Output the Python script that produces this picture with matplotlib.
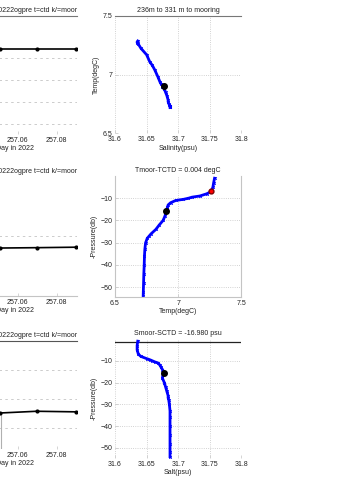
import matplotlib
matplotlib.use("Agg")
import matplotlib.pyplot as plt

plt.rcParams['font.family'] = ['Liberation Sans', 'DejaVu Sans']

# cast profile, read on a common pressure grid (dbar)
pres = [1, 3, 5, 7, 8, 9, 9.5, 10, 10.5, 11, 12, 13, 14, 15, 16, 18, 20, 22,
        24, 26, 27, 28, 30, 33, 36, 40, 44, 48, 52, 54]
temp = [7.287, 7.280, 7.274, 7.260, 7.225, 7.170, 7.110, 7.080, 7.040, 6.980,
        6.940, 6.920, 6.915, 6.910, 6.905, 6.895, 6.880, 6.850, 6.823, 6.785,
        6.770, 6.755, 6.742, 6.736, 6.733, 6.731, 6.728, 6.726, 6.724, 6.723]
salt = [31.636, 31.635, 31.635, 31.637, 31.641, 31.650, 31.655, 31.659, 31.663,
        31.668, 31.671, 31.673, 31.675, 31.677, 31.676, 31.675, 31.678, 31.680,
        31.682, 31.684, 31.684, 31.685, 31.686, 31.687, 31.687, 31.687, 31.687,
        31.687, 31.687, 31.687]

# mooring instrument value and the matching ctd point
p_moor = 15.6
t_moor = 6.906
s_moor = 31.678
p_ctd_top = 6.7
t_ctd_top = 7.26

# mooring time series around the cast
days = [257.0318, 257.0508, 257.0697, 257.0900]
moor_pres = [15.70, 15.70, 15.70, 15.70]
moor_temp = [6.902, 6.903, 6.906, 6.910]
moor_salt = [31.678, 31.676, 31.679, 31.678]
drop_day = 257.0515

title_left = "ctd20220222ogpre t=ctd k/=moor"
txt = '#222222'
grid_c = '#c4c4c4'
fs = 5

fig = plt.figure(figsize=(3.37, 4.87), dpi=100)

def style(ax, grid_ls, axis='both'):
    ax.tick_params(labelsize=fs, colors=grid_c, labelcolor=txt, direction='in',
                   length=2, width=0.5, pad=2)
    ax.grid(True, axis=axis, color=grid_c, linestyle=grid_ls, linewidth=0.6)
    ax.set_axisbelow(True)
    for s in ax.spines.values():
        s.set_visible(False)
        s.set_linewidth(0.8)

def time_axis(ax, ylim, yticks):
    ax.set_xlim(257.0262, 257.0905)
    ax.set_xticks([257.06, 257.08])
    ax.set_xticklabels(['257.06', '257.08'])
    ax.set_ylim(*ylim)
    ax.set_yticks(yticks)
    ax.set_yticklabels([])
    ax.set_xlabel('Day in 2022', fontsize=fs, color=txt, labelpad=1)
    ax.set_title(title_left, fontsize=fs, color=txt, loc='right', pad=3)
    ax.title.set_x(1.015)

line_kw = dict(color='#0000ff', lw=2.0, marker='x', ms=1.8, mew=0.7)

# left column: mooring time series
ax1 = fig.add_axes([-0.1424, 0.7248, 0.3709, 0.2423])
style(ax1, (0, (3, 4)), axis='y')
ax1.plot(days, moor_pres, color='black', lw=1.2, marker='.', ms=4)
time_axis(ax1, (13.77, 16.45), [14, 14.5, 15, 15.5])
ax1.spines['top'].set_visible(True)
ax1.spines['top'].set_color('#777777')

ax2 = fig.add_axes([-0.1424, 0.3922, 0.3709, 0.2444])
style(ax2, (0, (3, 4)), axis='y')
ax2.plot(days, moor_temp, color='black', lw=1.2, marker='.', ms=4)
time_axis(ax2, (6.5, 7.5), [6.5, 7])
ax2.spines['bottom'].set_visible(True)
ax2.spines['bottom'].set_color(grid_c)

ax3 = fig.add_axes([-0.1424, 0.0780, 0.3709, 0.2218])
style(ax3, (0, (3, 4)), axis='y')
ax3.vlines(drop_day, 31.60, moor_salt[1], color='#b0b0b0', lw=0.8)
ax3.plot(days, moor_salt, color='black', lw=1.2, marker='.', ms=4)
time_axis(ax3, (31.614, 31.8), [31.65, 31.7, 31.75, 31.8])
ax3.spines['top'].set_visible(True)
ax3.spines['top'].set_color('#555555')

sal_ticks = [31.6, 31.65, 31.7, 31.75, 31.8]
sal_labels = ['31.6', '31.65', '31.7', '31.75', '31.8']
neg_pres = [-p for p in pres]

# right column: T-S diagram
ax4 = fig.add_axes([0.3412, 0.7259, 0.3754, 0.2413])
style(ax4, ':')
ax4.plot(salt, temp, **line_kw)
ax4.plot(s_moor, t_moor, 'o', color='black', ms=4)
ax4.set_xlim(31.6, 31.8)
ax4.set_xticks(sal_ticks)
ax4.set_xticklabels(sal_labels)
ax4.set_ylim(6.5, 7.5)
ax4.set_yticks([6.5, 7, 7.5])
ax4.set_yticklabels(['6.5', '7', '7.5'])
ax4.set_xlabel('Salinity(psu)', fontsize=fs, color=txt, labelpad=1)
ax4.set_ylabel('Temp(degC)', fontsize=fs, color=txt, labelpad=2)
ax4.set_title('236m to 331 m to mooring', fontsize=fs, color=txt, pad=3)
ax4.spines['top'].set_visible(True)
ax4.spines['top'].set_color('#777777')

# temperature profile
ax5 = fig.add_axes([0.3412, 0.3901, 0.3754, 0.2485])
style(ax5, ':')
ax5.plot(temp, neg_pres, **line_kw)
ax5.plot(t_ctd_top, -p_ctd_top, 'o', color='red', mec='#800000', ms=3.5)
ax5.plot(t_moor, -p_moor, 'o', color='black', ms=4)
ax5.set_xlim(6.5, 7.5)
ax5.set_xticks([6.5, 7, 7.5])
ax5.set_xticklabels(['6.5', '7', '7.5'])
ax5.set_ylim(-54.4, 0)
ax5.set_yticks([-50, -40, -30, -20, -10])
ax5.set_xlabel('Temp(degC)', fontsize=fs, color=txt, labelpad=1)
ax5.set_ylabel('-Pressure(db)', fontsize=fs, color=txt, labelpad=2)
ax5.set_title('Tmoor-TCTD = 0.004 degC', fontsize=fs, color=txt, pad=3)
for side in ['left', 'right', 'bottom']:
    ax5.spines[side].set_visible(True)
    ax5.spines[side].set_color(grid_c)

# salinity profile
ax6 = fig.add_axes([0.3412, 0.0595, 0.3754, 0.2444])
style(ax6, ':')
ax6.axhline(-1.6, color='#222222', lw=0.9)
ax6.plot(salt, neg_pres, **line_kw)
ax6.plot(s_moor, -p_moor, 'o', color='black', ms=4)
ax6.set_xlim(31.6, 31.8)
ax6.set_xticks(sal_ticks)
ax6.set_xticklabels(sal_labels)
ax6.set_ylim(-54.6, 0)
ax6.set_yticks([-50, -40, -30, -20, -10])
ax6.set_xlabel('Salt(psu)', fontsize=fs, color=txt, labelpad=1)
ax6.set_ylabel('-Pressure(db)', fontsize=fs, color=txt, labelpad=2)
ax6.set_title('Smoor-SCTD = -16.980 psu', fontsize=fs, color=txt, pad=3)

fig.savefig('out.png', dpi=100, facecolor='white')
